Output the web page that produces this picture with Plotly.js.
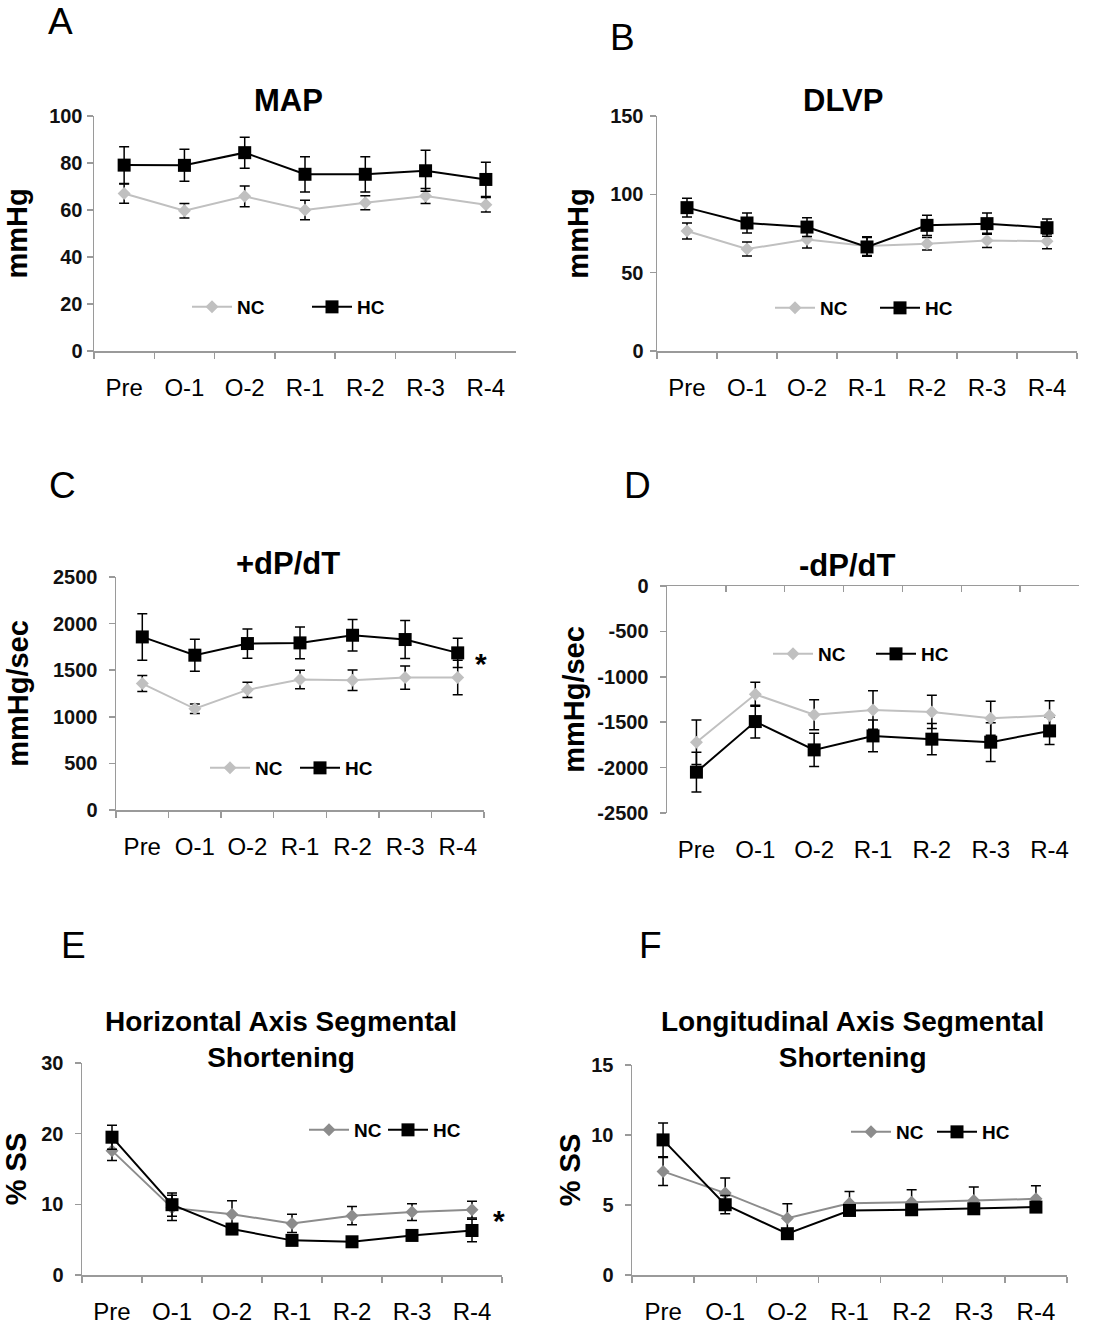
<!DOCTYPE html>
<html>
<head>
<meta charset="utf-8">
<script src="https://cdn.plot.ly/plotly-3.0.1.min.js"></script>
<style>html,body{margin:0;padding:0;background:#fff;}#chart{width:1112px;height:1328px;}</style>
</head>
<body>
<div id="chart"></div>
<script>
// ---------- data ----------
var categories = ['Pre', 'O-1', 'O-2', 'R-1', 'R-2', 'R-3', 'R-4'];
var seriesNames = ['NC', 'HC'];

var mapNC    = [67, 59.7, 65.8, 60, 63.1, 66, 62.2];
var mapNCerr = [4.1, 3.1, 4.4, 4.2, 3, 3.2, 3.1];
var mapHC    = [79.1, 79, 84.4, 75.2, 75.2, 76.7, 73];
var mapHCerr = [7.8, 6.8, 6.6, 7.5, 7.5, 8.7, 7.3];

var dlvpNC    = [76.6, 65.1, 71.1, 67, 68.5, 70.6, 70];
var dlvpNCerr = [5.1, 4.5, 5.4, 6, 4, 4.6, 4.7];
var dlvpHC    = [91.5, 81.7, 79.1, 66.4, 80.2, 81.3, 78.7];
var dlvpHCerr = [6, 6.4, 6, 6, 6.4, 6.8, 5.5];

var posNC    = [1357, 1086, 1289, 1400, 1393, 1421, 1421];
var posNCerr = [85, 50, 82, 100, 110, 125, 185];
var posHC    = [1857, 1661, 1786, 1793, 1875, 1829, 1686];
var posHCerr = [250, 171, 157, 171, 168, 203, 157];

var negNC    = [-1720, -1193, -1417, -1365, -1387, -1457, -1427];
var negNCerr = [245, 132, 165, 212, 183, 187, 164];
var negHC    = [-2050, -1493, -1805, -1651, -1687, -1720, -1596];
var negHCerr = [219, 180, 183, 175, 172, 213, 150];

var hssNC    = [17.6, 9.5, 8.6, 7.3, 8.4, 8.9, 9.25];
var hssNCerr = [1.4, 1.8, 1.9, 1.3, 1.3, 1.2, 1.2];
var hssHC    = [19.5, 9.95, 6.5, 4.9, 4.7, 5.6, 6.3];
var hssHCerr = [1.7, 1.65, 0.6, 0.4, 0.4, 0.5, 1.6];

var lssNC    = [7.4, 5.85, 4.06, 5.13, 5.2, 5.32, 5.44];
var lssNCerr = [1.0, 1.07, 1.03, 0.84, 0.89, 0.96, 0.93];
var lssHC    = [9.65, 5.02, 2.95, 4.61, 4.66, 4.73, 4.85];
var lssHCerr = [1.2, 0.65, 0.3, 0.3, 0.3, 0.3, 0.3];

// -dP/dT tick values and labels (hyphen minus, as in the original)
var negTickVals = [0, -500, -1000, -1500, -2000, -2500];
var negTickText = ['0', '-500', '-1000', '-1500', '-2000', '-2500'];

var panelTitles = ['MAP', 'DLVP', '+dP/dT', '-dP/dT',
  'Horizontal Axis Segmental<br>Shortening', 'Longitudinal Axis Segmental<br>Shortening'];
var yTitles = ['mmHg', 'mmHg', 'mmHg/sec', 'mmHg/sec', '% SS', '% SS'];
var panelLetters = ['A', 'B', 'C', 'D', 'E', 'F'];

// ---------- styling ----------
var FONT = 'Arial, "Liberation Sans", Helvetica, sans-serif';
var W = 1112, H = 1328;
function px(x) { return x / W; }
function py(y) { return 1 - y / H; }
var AXC = '#9a9a9a';
var lightGray = '#c0c0c0', midGray = '#8c8c8c';

function errObj(arr) {
  return {type: 'data', array: arr, visible: true, color: '#000', thickness: 1.5, width: 5};
}
function mkTrace(name, x, y, err, color, sym, size, xa, ya, leg) {
  return {
    type: 'scatter', mode: 'lines+markers', name: name,
    x: x, y: y, xaxis: xa, yaxis: ya, legend: leg,
    line: {color: color, width: 2},
    marker: {symbol: sym, size: size, color: color},
    error_y: errObj(err), cliponaxis: false, hoverinfo: 'x+y'
  };
}

var panels = [
  {nc: mapNC, nce: mapNCerr, hc: mapHC, hce: mapHCerr, ncColor: lightGray},
  {nc: dlvpNC, nce: dlvpNCerr, hc: dlvpHC, hce: dlvpHCerr, ncColor: lightGray},
  {nc: posNC, nce: posNCerr, hc: posHC, hce: posHCerr, ncColor: lightGray},
  {nc: negNC, nce: negNCerr, hc: negHC, hce: negHCerr, ncColor: lightGray},
  {nc: hssNC, nce: hssNCerr, hc: hssHC, hce: hssHCerr, ncColor: midGray},
  {nc: lssNC, nce: lssNCerr, hc: lssHC, hce: lssHCerr, ncColor: midGray}
];

// pixel geometry of each plot area: [left, right, top, bottom]
var geo = [
  [94, 516, 116, 351],
  [657, 1077, 116, 351],
  [116, 484, 577, 810],
  [667, 1079, 586, 813],
  [82, 502, 1063, 1275],
  [632, 1067, 1065, 1275]
];
var yRanges = [[0, 100], [0, 150], [0, 2500], [-2500, 0], [0, 30], [0, 15]];
var yDticks = [20, 50, 500, 500, 10, 5];
var legendPos = [ // [x of first line start, y center, entrywidth]
  [187, 307, 65],
  [770, 308, 50],
  [205, 768, 35],
  [768, 654, 48],
  [304, 1130, 24],
  [846, 1132, 31]
];
var titlePos = [[288, 101], [843, 101], [288, 564], [847, 565], [281, 1039], [852, 1039]];
var letterPos = [[60, 22], [622, 37], [62, 485], [637, 485], [73, 945], [650, 945]];
var yTitleStandoff = [13, 13, 16, 4, 18, 2];
var yLabelStandoff = [0, 2, 7, 7, 7, 7];

var data = [];
var layout = {
  width: W, height: H,
  margin: {l: 0, r: 0, t: 0, b: 0},
  paper_bgcolor: '#fff', plot_bgcolor: 'rgba(0,0,0,0)',
  font: {family: FONT, color: '#000'},
  showlegend: true,
  annotations: []
};

panels.forEach(function (p, i) {
  var n = i + 1;
  var xa = 'x' + (n === 1 ? '' : n), ya = 'y' + (n === 1 ? '' : n);
  var xk = 'xaxis' + (n === 1 ? '' : n), yk = 'yaxis' + (n === 1 ? '' : n);
  var lg = 'legend' + (n === 1 ? '' : n);
  var g = geo[i];
  var ncXa = xa;
  if (i === 3) ncXa = 'x7';
  data.push(mkTrace(seriesNames[0], categories, p.nc, p.nce, p.ncColor, 'diamond', 10, ncXa, ya, lg));
  data.push(mkTrace(seriesNames[1], categories, p.hc, p.hce, '#000', 'square', 13, xa, ya, lg));

  var isTopAxis = (i === 3);
  layout[xk] = {
    domain: [px(g[0]), px(g[1])], anchor: ya,
    type: 'category', categoryorder: 'array', categoryarray: categories,
    range: [-0.5, 6.5], fixedrange: true,
    showgrid: false, zeroline: false,
    showline: !isTopAxis, linecolor: AXC, linewidth: 1.5,
    ticks: isTopAxis ? '' : 'outside', tickson: 'boundaries', ticklen: 6, tickcolor: AXC, tickwidth: 1.5,
    tickfont: {family: FONT, size: 24, color: '#000'},
    ticklabelstandoff: isTopAxis ? 20 : 15
  };
  layout[yk] = {
    domain: [py(g[3]), py(g[2])], anchor: xa,
    range: yRanges[i], dtick: yDticks[i], tick0: 0, fixedrange: true,
    showgrid: false, zeroline: false,
    showline: true, linecolor: AXC, linewidth: 1.5,
    ticks: 'outside', ticklen: 6, tickcolor: AXC, tickwidth: 1.5,
    tickfont: {family: FONT, size: 20, color: '#111', weight: 'bold'},
    ticklabelstandoff: yLabelStandoff[i],
    title: {text: yTitles[i], font: {family: FONT, size: 29, color: '#000', weight: 'bold'}, standoff: yTitleStandoff[i]}
  };
  if (i === 3) {
    layout[yk].tickmode = 'array';
    layout[yk].tickvals = negTickVals;
    layout[yk].ticktext = negTickText;
  }
  var lp = legendPos[i];
  layout[lg] = {
    orientation: 'h', x: px(lp[0]), y: py(lp[1]), xanchor: 'left', yanchor: 'middle',
    bgcolor: 'rgba(0,0,0,0)', borderwidth: 0,
    font: {family: FONT, size: 19, color: '#000', weight: 'bold'},
    entrywidth: lp[2], entrywidthmode: 'pixels', traceorder: 'normal',
    itemwidth: 40,
    itemclick: false, itemdoubleclick: false
  };
  layout.annotations.push({
    text: panelTitles[i], xref: 'paper', yref: 'paper',
    x: px(titlePos[i][0]), y: py(titlePos[i][1]), xanchor: 'center', yanchor: 'middle',
    showarrow: false, font: {family: FONT, size: i >= 4 ? 28 : 31, color: '#000', weight: 'bold'}
  });
  layout.annotations.push({
    text: panelLetters[i], xref: 'paper', yref: 'paper',
    x: px(letterPos[i][0]), y: py(letterPos[i][1]), xanchor: 'center', yanchor: 'middle',
    showarrow: false, font: {family: FONT, size: 37, color: '#000'}
  });
});

// Panel D: axis line and ticks at y = 0 (top edge), labels at bottom
layout.xaxis7 = {
  overlaying: 'x4', side: 'top', anchor: 'y4',
  type: 'category', categoryorder: 'array', categoryarray: categories,
  range: [-0.5, 6.5], fixedrange: true,
  showgrid: false, zeroline: false, showticklabels: false,
  showline: true, linecolor: AXC, linewidth: 1.5,
  ticks: 'inside', tickson: 'boundaries', ticklen: 6, tickcolor: AXC, tickwidth: 1.5
};

// significance asterisks
layout.annotations.push({text: '*', xref: 'paper', yref: 'paper', x: px(481), y: py(663),
  xanchor: 'center', yanchor: 'middle', showarrow: false, font: {family: FONT, size: 30, weight: 'bold', color: '#000'}});
layout.annotations.push({text: '*', xref: 'paper', yref: 'paper', x: px(499), y: py(1220),
  xanchor: 'center', yanchor: 'middle', showarrow: false, font: {family: FONT, size: 30, weight: 'bold', color: '#000'}});

Plotly.newPlot('chart', data, layout, {displayModeBar: false, staticPlot: true});
</script>
</body>
</html>
